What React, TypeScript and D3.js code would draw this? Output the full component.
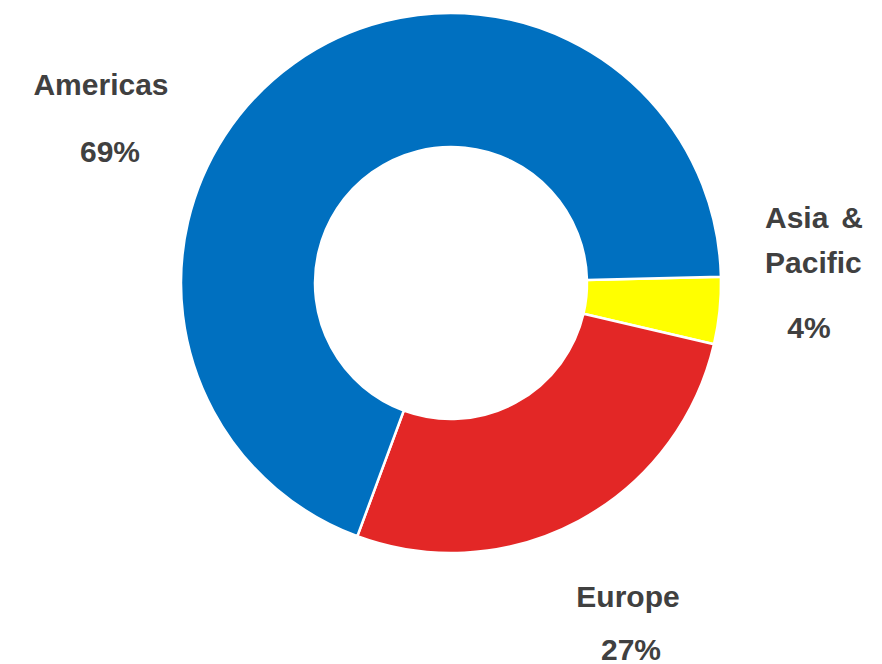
import React from "react";
import * as d3 from "d3";

const categories = ["Asia & Pacific", "Europe", "Americas"];
const values = [4, 27, 69];
const colors = ["#FFFF00", "#E32726", "#0070C0"];

const W = 882;
const H = 664;
const cx = 451;
const cy = 283;
const outerR = 270;
const innerR = 136;
const startDeg = 88.7;

export default function App() {
  const pie = d3
    .pie<number>()
    .sort(null)
    .startAngle((startDeg * Math.PI) / 180)
    .endAngle((startDeg * Math.PI) / 180 + 2 * Math.PI);
  const arcs = pie(values);
  const arc = d3.arc<d3.PieArcDatum<number>>().innerRadius(innerR).outerRadius(outerR);
  const textStyle: React.CSSProperties = {
    fontFamily: "'Liberation Sans', Arial, sans-serif",
    fontWeight: 700,
    fontSize: 30,
    fill: "#404040",
  };
  return (
    <svg
      width={W}
      height={H}
      style={{ position: "absolute", left: 0, top: 0, background: "#fff" }}
    >
      <g transform={`translate(${cx},${cy})`}>
        {arcs.map((a, i) => (
          <path key={categories[i]} d={arc(a) || ""} fill={colors[i]} stroke="#fff" strokeWidth={2.5} />
        ))}
      </g>
      <g style={textStyle}>
        <text x={101} y={95} textAnchor="middle">Americas</text>
        <text x={110} y={162} textAnchor="middle">{values[2]}%</text>
        <text x={765} y={228} textAnchor="start">Asia</text>
        <text x={863} y={228} textAnchor="end">&amp;</text>
        <text x={765} y={273} textAnchor="start">Pacific</text>
        <text x={809} y={338} textAnchor="middle">{values[0]}%</text>
        <text x={628} y={607} textAnchor="middle">Europe</text>
        <text x={631} y={660} textAnchor="middle">{values[1]}%</text>
      </g>
    </svg>
  );
}
